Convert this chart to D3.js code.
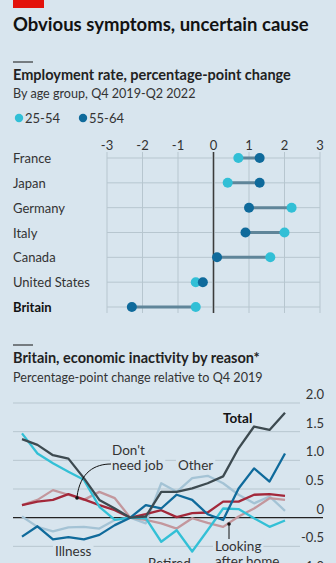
<!DOCTYPE html>
<html>
<head>
<meta charset="utf-8">
<script src="https://cdn.jsdelivr.net/npm/d3@7"></script>
<style>
  body { margin: 0; background: #d8e5ee; }
  svg { display: block; font-family: Lato, "Open Sans", sans-serif; }
</style>
</head>
<body>
<svg width="336" height="563"></svg>
<script>
// ---- data: employment rate change, Q4 2019-Q2 2022
const countries = ["France", "Japan", "Germany", "Italy", "Canada", "United States", "Britain"];
const prime = [0.7, 0.4, 2.2, 2.0, 1.6, -0.5, -0.5];     // 25-54
const older = [1.3, 1.3, 1.0, 0.9, 0.1, -0.3, -2.3];     // 55-64
const dotTicks = [-3, -2, -1, 0, 1, 2, 3];

// ---- data: Britain inactivity by reason, quarterly Q1 2018 - Q2 2022
const quarters = d3.range(18);
const total   = [1.37, 1.27, 1.09, 1.03, 0.69, 0.31, 0.16, 0, 0.02, 0.45, 0.45, 0.51, 0.6, 0.72, 1.21, 1.59, 1.53, 1.83];
const illness = [-0.33, -0.15, -0.38, -0.34, -0.38, -0.3, -0.13, 0, 0.22, 0.16, 0.4, 0.31, 0.06, -0.04, 0.51, 0.86, 0.63, 1.12];
const retired = [1.47, 1.12, 0.95, 0.8, 0.66, 0.19, -0.04, 0, -0.01, -0.42, -0.22, -0.59, -0.22, 0.16, 0.15, -0.01, -0.16, -0.05];
const noNeed  = [0.22, 0.28, 0.31, 0.41, 0.32, 0.22, 0.13, 0, 0.06, 0.13, 0.01, 0.08, 0.09, 0.28, 0.28, 0.4, 0.41, 0.38];
const other   = [0.02, -0.16, -0.24, -0.17, -0.16, -0.19, -0.04, 0, -0.1, 0.6, 0.45, 0.69, 0.73, 0.6, 0.4, 0.25, 0.37, 0.12];
const homeCare = [0.22, 0.31, 0.48, 0.4, 0.31, 0.45, 0.34, 0, -0.04, -0.1, -0.19, -0.01, -0.09, -0.16, 0.02, 0.16, 0.34, 0.31];
const lineTicks = [2.0, 1.5, 1.0, 0.5, 0, -0.5, -1.0];

const bg = "#d8e5ee", ink = "#121212", grid = "#b7c6cf";
const cyan = "#31bfd6", navy = "#0f6a9b";
const fs = 13;

const svg = d3.select("svg");

// header
svg.append("rect").attr("x", 13).attr("y", 0).attr("width", 31).attr("height", 8).attr("fill", "#e3120b");
svg.append("text").attr("x", 13).attr("y", 31).attr("font-size", 18.5).attr("font-weight", 700)
    .attr("fill", ink).text("Obvious symptoms, uncertain cause");

// ---- chart 1 ----
svg.append("line").attr("x1", 13).attr("x2", 33).attr("y1", 62).attr("y2", 62).attr("stroke", ink);
svg.append("text").attr("x", 13).attr("y", 80).attr("font-size", 14.5).attr("font-weight", 700)
    .attr("fill", "#222").text("Employment rate, percentage-point change");
svg.append("text").attr("x", 13).attr("y", 98).attr("font-size", 12.6)
    .attr("fill", "#333").text("By age group, Q4 2019-Q2 2022");

const legend = [["25-54", cyan, 19], ["55-64", navy, 83]];
legend.forEach(([lab, col, lx]) => {
    svg.append("circle").attr("cx", lx).attr("cy", 118).attr("r", 4.2).attr("fill", col);
    svg.append("text").attr("x", lx + 6).attr("y", 123).attr("font-size", fs).attr("fill", "#333").text(lab);
});

const x1 = d3.scaleLinear().domain([-3, 3]).range([107, 320]);
const y1 = d3.scalePoint().domain(countries).range([158, 307]);

const g1 = svg.append("g");
g1.selectAll("line.v").data(dotTicks).join("line")
    .attr("x1", d => x1(d)).attr("x2", d => x1(d)).attr("y1", 152).attr("y2", 313)
    .attr("stroke", d => d === 0 ? "#3b3b3b" : grid).attr("stroke-width", d => d === 0 ? 1.3 : 1);
g1.selectAll("line.h").data(countries).join("line")
    .attr("x1", 107).attr("x2", 320).attr("y1", d => y1(d)).attr("y2", d => y1(d))
    .attr("stroke", grid);
// redraw zero on top of horizontals
g1.append("line").attr("x1", x1(0)).attr("x2", x1(0)).attr("y1", 152).attr("y2", 313)
    .attr("stroke", "#3b3b3b").attr("stroke-width", 1.3);
g1.selectAll("text.tick").data(dotTicks).join("text")
    .attr("x", d => x1(d)).attr("y", 150).attr("text-anchor", "middle")
    .attr("font-size", fs).attr("fill", "#333").text(d => d < 0 ? "-" + Math.abs(d) : d);
g1.selectAll("text.lab").data(countries).join("text")
    .attr("x", 13).attr("y", d => y1(d) + 5).attr("font-size", fs)
    .attr("font-weight", d => d === "Britain" ? 700 : 400)
    .attr("fill", d => d === "Britain" ? ink : "#333").text(d => d);

countries.forEach((c, i) => {
    g1.append("line").attr("x1", x1(prime[i])).attr("x2", x1(older[i]))
        .attr("y1", y1(c)).attr("y2", y1(c)).attr("stroke", "#5f8599").attr("stroke-width", 3);
});
countries.forEach((c, i) => {
    g1.append("circle").attr("cx", x1(prime[i])).attr("cy", y1(c)).attr("r", 5).attr("fill", cyan);
    g1.append("circle").attr("cx", x1(older[i])).attr("cy", y1(c)).attr("r", 5).attr("fill", navy);
});

// ---- chart 2 ----
svg.append("line").attr("x1", 13).attr("x2", 33).attr("y1", 345).attr("y2", 345).attr("stroke", ink);
svg.append("text").attr("x", 13).attr("y", 363).attr("font-size", 14.5).attr("font-weight", 700)
    .attr("fill", "#222").text("Britain, economic inactivity by reason*");
svg.append("text").attr("x", 13).attr("y", 382).attr("font-size", 12.6)
    .attr("fill", "#333").text("Percentage-point change relative to Q4 2019");

const x2 = d3.scaleLinear().domain([0, 17]).range([22, 285]);
const y2 = d3.scaleLinear().domain([-1, 2]).range([575, 403]);

const g2 = svg.append("g");
g2.selectAll("line.grid").data(lineTicks.filter(d => d !== 0)).join("line")
    .attr("x1", 13).attr("x2", 300).attr("y1", d => y2(d)).attr("y2", d => y2(d))
    .attr("stroke", grid);
g2.selectAll("text.tick").data(lineTicks).join("text")
    .attr("x", 324).attr("y", d => y2(d) - 4).attr("text-anchor", "end")
    .attr("font-size", fs).attr("fill", "#333").text(d => d === 0 ? "0" : d.toFixed(1));

const line = d3.line().x((d, i) => x2(quarters[i])).y(d => y2(d));
const series = [
    [other, "#a4c3d5"],
    [homeCare, "#c3979d"],
    [noNeed, "#a3283a"],
    [retired, "#33c0d6"],
    [illness, "#0f6a9b"],
    [total, "#3d4a50"]
];

// labels with background boxes (drawn before lines so lines stay on top)
const labels = [
    ["Don't", 112, 455], ["need job", 112, 470], ["Other", 178, 470],
    ["Illness", 55, 556], ["Retired", 148, 568], ["Looking", 215, 551], ["after home", 215, 566]
];
labels.forEach(([t, lx, ly]) => {
    const tx = g2.append("text").attr("x", lx).attr("y", ly).attr("font-size", 13.5).attr("fill", "#333").text(t);
    const b = tx.node().getBBox();
    g2.insert("rect", "text").attr("x", b.x - 2).attr("y", b.y).attr("width", b.width + 4).attr("height", b.height)
        .attr("fill", bg);
});

g2.append("line").attr("x1", 13).attr("x2", 323).attr("y1", y2(0)).attr("y2", y2(0))
    .attr("stroke", "#222").attr("stroke-width", 1.2);

series.forEach(([vals, col]) => {
    g2.append("path").datum(vals).attr("d", line).attr("fill", "none")
        .attr("stroke", col).attr("stroke-width", 2.3).attr("stroke-linejoin", "round");
});

g2.append("text").attr("x", 223).attr("y", 423).attr("font-size", 13.5).attr("font-weight", 700)
    .attr("fill", ink).text("Total");

// pointers
g2.append("path").attr("d", "M111,464 C95,464 80,472 77,497").attr("fill", "none").attr("stroke", ink).attr("stroke-width", 1);
g2.append("circle").attr("cx", 77).attr("cy", 498).attr("r", 1.8).attr("fill", ink);
g2.append("line").attr("x1", 229).attr("x2", 229).attr("y1", 524).attr("y2", 539).attr("stroke", ink);
g2.append("circle").attr("cx", 229).attr("cy", 524).attr("r", 1.8).attr("fill", ink);
</script>
</body>
</html>
